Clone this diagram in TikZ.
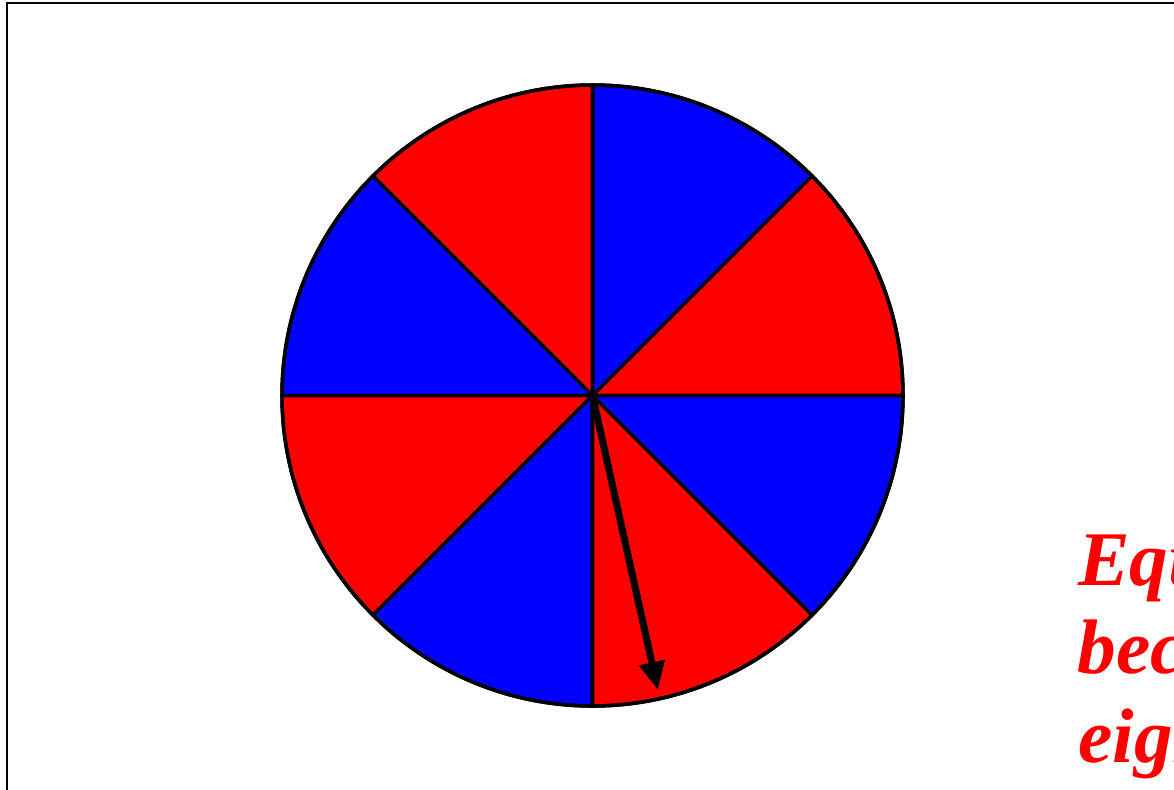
\documentclass[tikz,border=0pt]{standalone}
\usepackage{fontspec}
\newfontfamily\handfont{Liberation Serif}
\usetikzlibrary{arrows.meta}
\definecolor{pred}{RGB}{255,0,0}
\definecolor{pblue}{RGB}{0,0,255}
\tikzset{
  sector/.style={draw=black, line width=2pt, line join=round},
  pointer/.style={draw=black, line width=4pt, -{Triangle[length=16pt,width=14pt]}},
  note/.style={text=pred, anchor=base west, inner sep=0pt, font=\handfont\bfseries\itshape\fontsize{44}{50}\selectfont},
}
\begin{document}
\begin{tikzpicture}[x=0.02cm,y=-0.02cm]
\useasboundingbox (0,0) rectangle (1174,789);
\clip (0,0) rectangle (1174,789);
\draw[line width=0.9pt] (7,3) rectangle (1200,820);
\coordinate (c) at (592.5,395.5);
\def\R{310.5}
\foreach \a/\col in {0/pred,45/pblue,90/pred,135/pblue,180/pred,225/pblue,270/pred,315/pblue}{
  \filldraw[sector, fill=\col] (c) -- ++(-\a:\R) arc[start angle=-\a, delta angle=-45, radius=\R] -- cycle;
}
\draw[sector] (c) circle[radius=\R];
\coordinate (tip) at (658,690);
\draw[pointer] (c) -- (tip);
\node[note] (l1) at (1078,585) {Equally likely};
\node[note] (l2) at (1077,673) {because there are};
\node[note] (l3) at (1078,762) {eight equal parts};
\end{tikzpicture}
\end{document}
